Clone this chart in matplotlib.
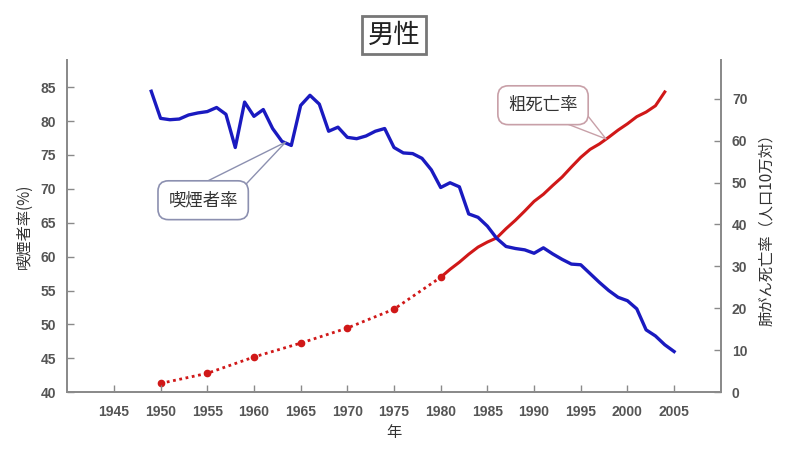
import matplotlib
matplotlib.use("Agg")
import matplotlib.pyplot as plt

plt.rcParams['font.family'] = ['Noto Sans CJK JP', 'DejaVu Sans']

# Smoking rate (%) of men, left axis
smoke_years = list(range(1949, 2006))
smoke_rate = [84.4, 80.4, 80.2, 80.3, 80.9, 81.2, 81.4, 82.0, 81.0, 76.1,
              82.8, 80.7, 81.7, 78.9, 77.0, 76.4, 82.3, 83.8, 82.5, 78.5,
              79.1, 77.6, 77.4, 77.8, 78.5, 78.9, 76.1, 75.3, 75.2, 74.5,
              72.8, 70.2, 70.9, 70.3, 66.3, 65.8, 64.5, 62.7, 61.5, 61.2,
              61.0, 60.5, 61.3, 60.4, 59.6, 58.9, 58.8, 57.5, 56.2, 55.0,
              54.0, 53.5, 52.3, 49.2, 48.3, 47.0, 46.0]

# Lung cancer crude death rate (per 100,000), right axis
early_years = [1950, 1955, 1960, 1965, 1970, 1975, 1980]
early_rate = [2.1, 4.5, 8.4, 11.7, 15.3, 19.8, 27.4]
late_years = list(range(1980, 2005))
late_rate = [27.4, 29.3, 31.0, 32.9, 34.6, 35.8, 36.8, 39.0, 41.0, 43.2,
             45.5, 47.2, 49.3, 51.3, 53.7, 56.0, 57.9, 59.2, 60.8, 62.5,
             64.0, 65.7, 66.8, 68.3, 71.6]

x_ticks = [1945, 1950, 1955, 1960, 1965, 1970, 1975, 1980, 1985, 1990, 1995, 2000, 2005]
left_ticks = [40, 45, 50, 55, 60, 65, 70, 75, 80, 85]
right_ticks = [0, 10, 20, 30, 40, 50, 60, 70]

fig = plt.figure(figsize=(8, 4.55), dpi=100)
ax = fig.add_axes([0.084, 0.138, 0.817, 0.730])
ax2 = ax.twinx()

tick_col = '#555555'
spine_col = '#8a8a8a'

ax2.plot(early_years, early_rate, color='#d01818', lw=2.0,
         linestyle=(0, (1, 1.3)), marker='o', markersize=4.5, zorder=2)
ax2.plot(late_years, late_rate, color='#d01818', lw=2.2, zorder=2)
ax.plot(smoke_years, smoke_rate, color='#1a1ac0', lw=2.4, zorder=3)

ax.set_zorder(ax2.get_zorder() + 1)
ax.patch.set_visible(False)

ax.set_xlim(1940, 2010)
ax.set_ylim(40, 89)
ax2.set_ylim(0, 79.2)
ax.set_xticks(x_ticks)
ax.set_yticks(left_ticks)
ax2.set_yticks(right_ticks)

for a in (ax, ax2):
    for s in a.spines.values():
        s.set_color(spine_col)
        s.set_linewidth(1.3)
    a.spines['top'].set_visible(False)
    a.tick_params(direction='in', length=5, width=1.0, color=spine_col,
                  labelsize=10, labelcolor=tick_col)
    for lab in a.get_xticklabels() + a.get_yticklabels():
        lab.set_family('Liberation Sans')
        lab.set_fontweight('bold')
ax.tick_params(axis='y', pad=8)
ax.tick_params(axis='x', pad=9)
ax2.tick_params(axis='y', pad=8)

ax.set_ylabel('喫煙者率(%)', fontsize=11, color='#333333', labelpad=6)
ax2.set_ylabel('肺がん死亡率（人口10万対）', fontsize=11, color='#333333',
               rotation=90, labelpad=8)
ax.set_xlabel('年', fontsize=11, color='#333333', labelpad=4)

# Callouts
ax.annotate('喫煙者率', xy=(1963.4, 76.9), xycoords='data',
            xytext=(0.208, 0.578), textcoords='axes fraction',
            ha='center', va='center', fontsize=12.5, color='#333333',
            bbox=dict(boxstyle='round,pad=0.6,rounding_size=0.6', fc='white',
                      ec='#8c90b0', lw=1.2),
            arrowprops=dict(arrowstyle='wedge,tail_width=2.0,shrink_factor=0.5',
                            fc='white', ec='#8c90b0', lw=1.0,
                            patchA=None, shrinkA=0, shrinkB=0,
                            relpos=(0.56, 0.5)))
ax2.annotate('粗死亡率', xy=(1997.7, 60.4), xycoords='data',
             xytext=(0.728, 0.864), textcoords='axes fraction',
             ha='center', va='center', fontsize=12.5, color='#333333',
             bbox=dict(boxstyle='round,pad=0.6,rounding_size=0.6', fc='white',
                       ec='#c8a0a8', lw=1.2),
             arrowprops=dict(arrowstyle='wedge,tail_width=1.6,shrink_factor=0.5',
                             fc='white', ec='#c8a0a8', lw=1.0,
                             patchA=None, shrinkA=0, shrinkB=0,
                             relpos=(0.82, 0.3)))

fig.text(0.4925, 0.923, '男性', ha='center', va='center', fontsize=19,
         color='#222222',
         bbox=dict(boxstyle='square,pad=0.22', fc='white', ec='#777777', lw=2))

fig.savefig('out.png', dpi=100)
